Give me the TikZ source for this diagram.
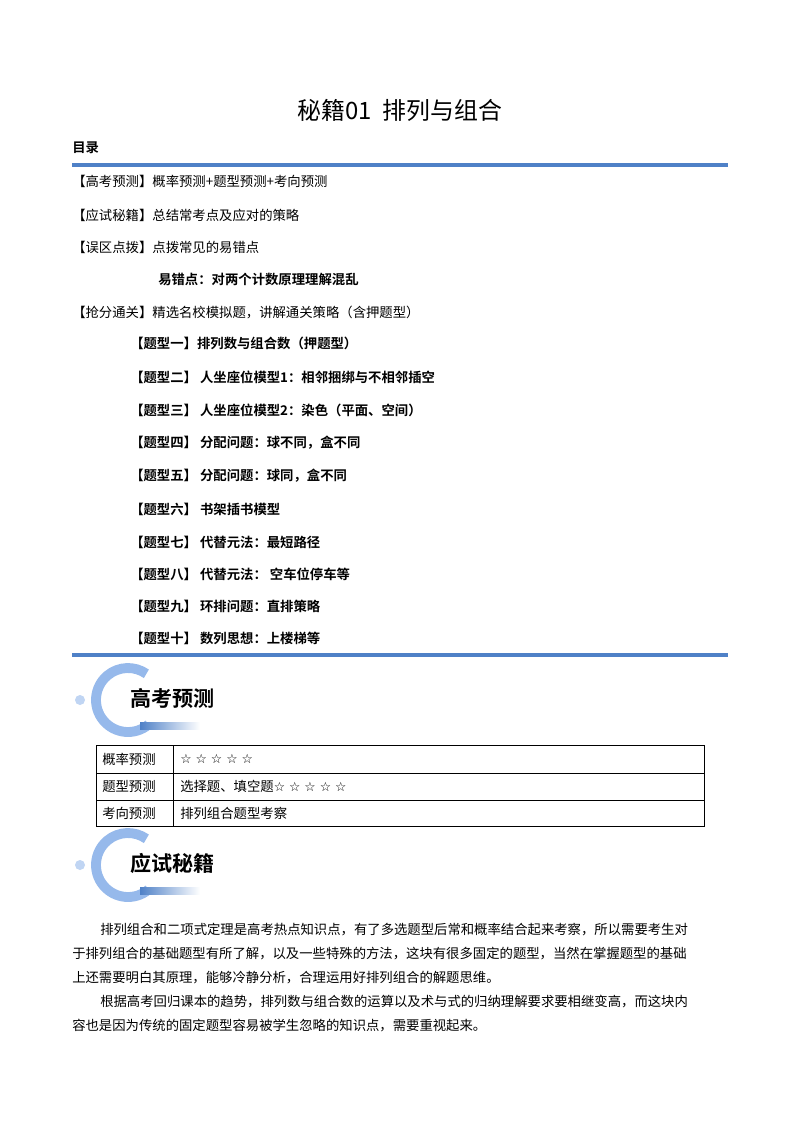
\documentclass[tikz,border=0pt]{standalone}
\usepackage{fontspec}
\setmainfont{Liberation Serif}
\newfontfamily\cjk{Noto Sans CJK SC}
\newfontfamily\cjkb{Noto Sans CJK SC Bold}
\newfontfamily\symf{DejaVu Sans}
\definecolor{rule}{RGB}{79,129,199}
\definecolor{ring}{RGB}{150,185,235}
\begin{document}
\begin{tikzpicture}[x=0.25mm,y=-0.25mm,
  body/.style={anchor=west,inner sep=0,font=\cjk\fontsize{9.5}{11}\selectfont},
  bold/.style={anchor=west,inner sep=0,font=\cjkb\fontsize{9.5}{11}\selectfont},
  banner/.style={anchor=west,inner sep=0,font=\cjkb\fontsize{15}{17}\selectfont}]
\useasboundingbox[fill=white] (0,0) rectangle (800,1132);
\node (title) at (400,110) {\cjk\fontsize{17}{20}\selectfont 秘籍01\ \ 排列与组合};
\node[bold] (ml) at (72,148) {目录};
\draw[rule,line width=1mm] (72,165) -- (728,165);
\node[body] (l1) at (72,181) {【高考预测】概率预测+题型预测+考向预测};
\node[body] (l2) at (72,215) {【应试秘籍】总结常考点及应对的策略};
\node[body] (l3) at (72,247) {【误区点拨】点拨常见的易错点};
\node[bold] (l4) at (158,279) {易错点：对两个计数原理理解混乱};
\node[body] (l5) at (72,312) {【抢分通关】精选名校模拟题，讲解通关策略（含押题型）};
\foreach \y/\t in {343/{【题型一】排列数与组合数（押题型）},377/{【题型二】 人坐座位模型1：相邻捆绑与不相邻插空},410/{【题型三】 人坐座位模型2：染色（平面、空间）},443/{【题型四】 分配问题：球不同，盒不同},476/{【题型五】 分配问题：球同，盒不同},509/{【题型六】 书架插书模型},542/{【题型七】 代替元法：最短路径},574/{【题型八】 代替元法：\ 空车位停车等},606/{【题型九】 环排问题：直排策略},638/{【题型十】 数列思想：上楼梯等}}
  \node[bold] at (130,\y) {\t};
\draw[rule,line width=1mm] (72,655) -- (728,655);
% banners
\foreach \yc/\t in {700/高考预测,865/应试秘籍}{
  \fill[ring!60] (80,\yc) circle (5);
  \draw[ring,line width=7pt] ([shift={(50:32)}]128,\yc) arc[start angle=50,end angle=305,radius=32];
  \shade[left color=rule,right color=white] (140,\yc+22) rectangle (200,\yc+29);
  \node[banner] at (130,\yc-2) {\t};
}
% table
\draw[line width=0.6pt] (96,745) rectangle (704,826);
\draw[line width=0.6pt] (96,773) -- (704,773) (96,800) -- (704,800) (173,745) -- (173,826);
\node[body] (t1) at (102,759) {概率预测};
\node[body] (t2) at (102,786) {题型预测};
\node[body] (t3) at (102,813) {考向预测};
\node[anchor=west,inner sep=0] (v1) at (180,759) {\symf\fontsize{9}{11}\selectfont ☆ ☆ ☆ ☆ ☆};
\node[anchor=west,inner sep=0] (v2) at (180,786) {\cjk\fontsize{9.5}{11}\selectfont 选择题、填空题\symf\fontsize{9}{11}\selectfont☆ ☆ ☆ ☆ ☆};
\node[body] (v3) at (180,813) {排列组合题型考察};
% paragraphs
\node[body] (p1) at (100,930) {排列组合和二项式定理是高考热点知识点，有了多选题型后常和概率结合起来考察，所以需要考生对};
\node[body] (p2) at (72,954) {于排列组合的基础题型有所了解，以及一些特殊的方法，这块有很多固定的题型，当然在掌握题型的基础};
\node[body] (p3) at (72,978) {上还需要明白其原理，能够冷静分析，合理运用好排列组合的解题思维。};
\node[body] (p4) at (100,1002) {根据高考回归课本的趋势，排列数与组合数的运算以及术与式的归纳理解要求要相继变高，而这块内};
\node[body] (p5) at (72,1026) {容也是因为传统的固定题型容易被学生忽略的知识点，需要重视起来。};
\end{tikzpicture}
\end{document}
